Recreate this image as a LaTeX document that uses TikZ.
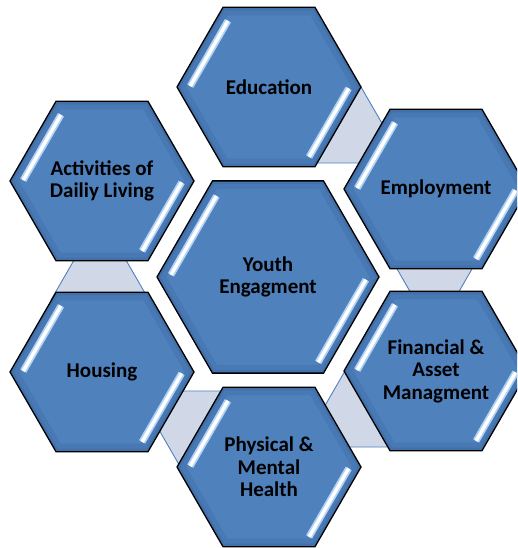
\documentclass[tikz,border=0pt]{standalone}
\usepackage{fontspec}
\setmainfont{Carlito}
\usetikzlibrary{shapes.geometric,calc}
\definecolor{hexblue}{RGB}{79,129,189}
\definecolor{hexdark}{RGB}{30,65,115}
\definecolor{linkfill}{RGB}{208,216,232}
\definecolor{linkline}{RGB}{79,129,189}
\definecolor{shine}{RGB}{175,210,245}
\newcommand\hexdeco{%
  \coordinate (pL) at (path picture bounding box.west);
  \coordinate (pR) at (path picture bounding box.east);
  \coordinate (pTL) at ($(path picture bounding box.north west)!0.5!(path picture bounding box.north)$);
  \coordinate (pTR) at ($(path picture bounding box.north)!0.5!(path picture bounding box.north east)$);
  \coordinate (pBR) at ($(path picture bounding box.south east)!0.5!(path picture bounding box.south)$);
  \coordinate (pBL) at ($(path picture bounding box.south)!0.5!(path picture bounding box.south west)$);
  \draw[hexdark, opacity=.12, line width=16pt, line join=round, fill=none] (pL)--(pTL)--(pTR)--(pR)--(pBR)--(pBL)--cycle;
  \draw[hexdark, opacity=.14, line width=6pt, line join=round, fill=none] (pL)--(pTL)--(pTR)--(pR)--(pBR)--(pBL)--cycle;
  \draw[shine, line width=7pt] ($(pTL)!0.1!(pL)+(-30:11pt)$) -- ($(pTL)!0.92!(pL)+(-30:11pt)$);
  \draw[white, line width=3.5pt] ($(pTL)!0.1!(pL)+(-30:11pt)$) -- ($(pTL)!0.92!(pL)+(-30:11pt)$);
  \draw[shine, line width=7pt] ($(pR)!0.08!(pBR)+(150:10pt)$) -- ($(pR)!0.94!(pBR)+(150:10pt)$);
  \draw[white, line width=3.5pt] ($(pR)!0.08!(pBR)+(150:10pt)$) -- ($(pR)!0.94!(pBR)+(150:10pt)$);
}
\tikzset{
  hexa/.style={regular polygon, regular polygon sides=6, minimum size=#1,
    inner sep=0pt, outer sep=0pt, fill=hexblue, draw=black, line width=1.3pt,
    align=center, font=\bfseries\fontsize{21}{22.5}\selectfont,
    path picture={\hexdeco}},
  link/.style={fill=linkfill, draw=linkline, line width=0.9pt, line join=round}
}
\begin{document}
\begin{tikzpicture}[x=1pt,y=-1pt]
  \useasboundingbox (0,0) rectangle (517,548);
  \fill[white] (0,0) rectangle (517,548);
  \clip (0,0) rectangle (517,548);
  % linking triangles
  \path[link] (361,87) -- (317,163) -- (405,163) -- cycle;
  \path[link] (393,262) -- (476,262) -- (434.5,334) -- cycle;
  \path[link] (345,371) -- (301,447) -- (389,447) -- cycle;
  \path[link] (136.5,391) -- (225.5,391) -- (181,468) -- cycle;
  \path[link] (100,215) -- (51,300) -- (149,300) -- cycle;
  % hexagons
  \node[hexa=222pt] (youth) at (268,277) {Youth\\Engagment};
  \node[hexa=184pt] (edu) at (269,87) {Education};
  \node[hexa=184pt] (emp) at (436,189) {Employment};
  \node[hexa=184pt] (fin) at (436,371) {Financial \&\\Asset\\Managment};
  \node[hexa=184pt] (phys) at (269,467) {Physical \&\\Mental\\Health};
  \node[hexa=184pt] (hous) at (102,372) {Housing};
  \node[hexa=184pt] (act) at (102,181) {Activities of\\Dailiy Living};
\end{tikzpicture}
\end{document}
